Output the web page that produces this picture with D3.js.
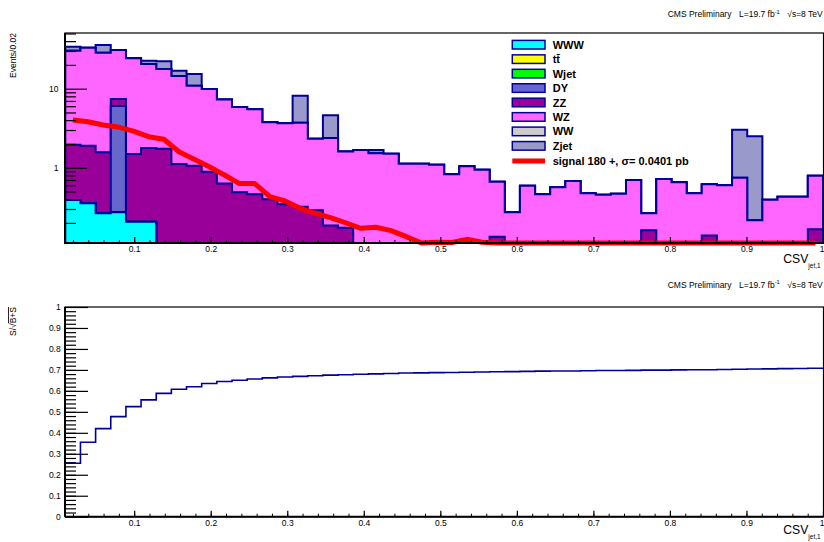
<!DOCTYPE html>
<html>
<head>
<meta charset="utf-8">
<script src="https://cdn.jsdelivr.net/npm/d3@7/dist/d3.min.js"></script>
<style>
  html, body { margin: 0; padding: 0; background: #fff; }
  svg { display: block; font-family: "Liberation Sans", Arial, Helvetica, sans-serif; }
</style>
</head>
<body>
<svg id="chart" width="824" height="542"></svg>
<script>
// ---- binning of the CSV discriminant (leading jet) ----
const xRange = [0.01, 1.0];
const nBins = 50;

// ---- background processes, stacked in this order (events per bin) ----
const processNames = ["WWW", "tt\u0304", "Wjet", "DY", "ZZ", "WZ", "WW", "Zjet"];
const processColors = ["#00ffff", "#ffff00", "#00ff00", "#6666cc", "#990099", "#ff66ff", "#cccccc", "#9999cc"];

const WWW = [0.39, 0.354, 0.265, 0.272, 0.207, 0.207, 0, 0, 0, 0,
             0, 0, 0, 0, 0, 0, 0, 0, 0, 0,
             0, 0, 0, 0, 0, 0, 0, 0, 0, 0,
             0, 0, 0, 0, 0, 0, 0, 0, 0, 0,
             0, 0, 0, 0, 0, 0, 0, 0, 0, 0];
const TT = new Array(50).fill(0);
const Wjet = new Array(50).fill(0);
const DY = [0, 0, 0, 5.77, 0, 0, 0, 0, 0, 0,
            0, 0, 0, 0, 0, 0, 0, 0, 0, 0,
            0, 0, 0, 0, 0, 0, 0, 0, 0, 0,
            0, 0, 0, 0, 0, 0, 0, 0, 0, 0,
            0, 0, 0, 0, 0, 0, 0, 0, 0, 0];
const ZZ = [1.56, 1.546, 1.305, 1.37, 1.283, 1.573, 1.74, 1.11, 1.06, 0.89,
            0.63, 0.49, 0.46, 0.40, 0.344, 0.321, 0.29, 0.185, 0.174, 0,
            0, 0, 0, 0, 0, 0, 0, 0, 0.134, 0,
            0, 0, 0, 0, 0, 0, 0, 0, 0.161, 0,
            0, 0, 0.139, 0, 0, 0, 0, 0, 0, 0.166];
const WZ = [28.35, 31.1, 27.03, 23.49, 22.81, 18.72, 16.06, 13.39, 9.84, 9.01,
            6.67, 5.38, 5.03, 3.36, 3.31, 3.39, 2.04, 2.195, 1.426, 1.68,
            1.52, 1.50, 1.12, 1.12, 1.09, 0.824, 1.04, 0.94, 0.531, 0.272,
            0.592, 0.46, 0.565, 0.68, 0.474, 0.455, 0.469, 0.70, 0.104, 0.72,
            0.653, 0.474, 0.478, 0.599, 0.747, 0.216, 0.394, 0.43, 0.43, 0.624];
const WW = new Array(50).fill(0);
const Zjet = [3.7, 0, 7.1, 0, 0, 2.1, 4.4, 2.4, 4.5, 0,
              0, 0, 0, 0, 0, 4.44, 0, 2.22, 0, 0,
              0.16, 0, 0, 0, 0, 0, 0, 0, 0, 0,
              0, 0, 0, 0, 0, 0, 0, 0, 0, 0,
              0, 0, 0, 0, 2.28, 2.28, 0, 0, 0, 0];

// ---- signal (m = 180 GeV) ----
const signalLabel = "signal 180 +, \u03c3= 0.0401 pb";
const signal = [4.02, 3.82, 3.47, 3.27, 2.91, 2.47, 2.29, 1.59, 1.28, 1.03,
                0.81, 0.63, 0.63, 0.43, 0.379, 0.306, 0.265, 0.233, 0.201, 0.171,
                0.176, 0.160, 0.134, 0.105, 0.114, 0.113, 0.124, 0.114, 0.108, 0,
                0, 0, 0, 0, 0, 0, 0, 0, 0, 0,
                0, 0, 0, 0, 0, 0, 0, 0, 0, 0];

// ---- S/sqrt(B+S) for a cut CSV > x ----
const significance = [0.255, 0.355, 0.42, 0.477, 0.525, 0.557, 0.588, 0.608, 0.62, 0.635,
                      0.645, 0.651, 0.657, 0.662, 0.666, 0.669, 0.672, 0.675, 0.677, 0.679,
                      0.681, 0.683, 0.685, 0.686, 0.687, 0.688, 0.689, 0.690, 0.691, 0.692,
                      0.693, 0.694, 0.695, 0.695, 0.696, 0.697, 0.697, 0.698, 0.699, 0.699,
                      0.700, 0.701, 0.701, 0.702, 0.703, 0.704, 0.705, 0.706, 0.707, 0.708];

// ---- axis ticks ----
const xMajorTicks = [0.1, 0.2, 0.3, 0.4, 0.5, 0.6, 0.7, 0.8, 0.9, 1.0];
const xMajorLabels = ["0.1", "0.2", "0.3", "0.4", "0.5", "0.6", "0.7", "0.8", "0.9", "1"];
const logMajorTicks = [1, 10];
const logMinorTicks = [0.2, 0.3, 0.4, 0.5, 0.6, 0.7, 0.8, 0.9, 2, 3, 4, 5, 6, 7, 8, 9, 20, 30, 40, 50];
const sigTicks = [0, 0.1, 0.2, 0.3, 0.4, 0.5, 0.6, 0.7, 0.8, 0.9, 1];
const sigLabels = ["0", "0.1", "0.2", "0.3", "0.4", "0.5", "0.6", "0.7", "0.8", "0.9", "1"];

const series = [WWW, TT, Wjet, DY, ZZ, WZ, WW, Zjet];
const lineColor = "#000099";

// ---- layout ----
const svg = d3.select("#chart");
const frameL = 65, frameR = 823.5;
const topP = { t: 33, b: 243 };
const botP = { t: 307, b: 516.7 };

const binW = (xRange[1] - xRange[0]) / nBins;
const edges = d3.range(nBins + 1).map(i => xRange[0] + i * binW);
const centers = d3.range(nBins).map(i => xRange[0] + (i + 0.5) * binW);
const minorStep = 0.02;
const xMinorTicks = d3.range(1, 50).map(i => i * minorStep);
const yMinorTicks = d3.range(1, 50).map(i => i * minorStep);

const x = d3.scaleLinear().domain(xRange).range([65.3, 823]);
const yTop = d3.scaleLog().domain([0.1114, 50.7]).range([topP.b, topP.t]).clamp(true);
const yBot = d3.scaleLinear().domain([0, 1]).range([botP.b, botP.t]);

// cumulative stack
const cumulative = [];
series.forEach((s, i) => {
  cumulative.push(s.map((v, b) => v + (i > 0 ? cumulative[i - 1][b] : 0)));
});

function stepPoints(vals) {
  const pts = [];
  vals.forEach((v, b) => { pts.push([edges[b], v]); pts.push([edges[b + 1], v]); });
  return pts;
}

// ---- top panel: stacked backgrounds, drawn from the full sum downwards ----
const gTop = svg.append("g");
const area = d3.area()
  .x(d => x(d[0]))
  .y0(topP.b)
  .y1(d => yTop(d[1]));

for (let i = series.length - 1; i >= 0; i--) {
  gTop.append("path")
    .attr("d", area(stepPoints(cumulative[i])))
    .attr("fill", processColors[i])
    .attr("stroke", lineColor)
    .attr("stroke-width", 2)
    .attr("stroke-linejoin", "miter");
}

// signal curve
const sigLine = d3.line()
  .x((d, i) => x(centers[i]))
  .y(d => yTop(d));
gTop.append("path")
  .attr("d", sigLine(signal))
  .attr("fill", "none")
  .attr("stroke", "#ff0000")
  .attr("stroke-width", 5)
  .attr("stroke-linejoin", "round");

// frames
function frame(p) {
  svg.append("rect")
    .attr("x", frameL).attr("y", p.t)
    .attr("width", frameR - frameL).attr("height", p.b - p.t)
    .attr("fill", "none").attr("stroke", "#000").attr("stroke-width", 1.2);
}
frame(topP);
frame(botP);

function styleAxis(g, width) {
  g.select(".domain").remove();
  g.selectAll(".tick line").attr("stroke", "#000").attr("stroke-width", width);
  g.selectAll("text").attr("font-size", 8.5).attr("fill", "#000")
    .attr("font-family", "'Liberation Sans', Arial, sans-serif");
}

function xAxes(p) {
  const major = d3.axisBottom(x).tickValues(xMajorTicks)
    .tickFormat((d, i) => xMajorLabels[i]).tickSize(-6).tickSizeOuter(0).tickPadding(3.2);
  const gM = svg.append("g").attr("transform", `translate(0,${p.b})`).call(major);
  styleAxis(gM, 1.2);
  // the label at the right edge is kept inside the page
  gM.selectAll(".tick text").filter(d => d === 1.0).attr("text-anchor", "end").attr("dx", 1);
  const minor = d3.axisBottom(x).tickValues(xMinorTicks)
    .tickFormat("").tickSize(-3).tickSizeOuter(0);
  const gm = svg.append("g").attr("transform", `translate(0,${p.b})`).call(minor);
  styleAxis(gm, 1);
  svg.append("line").attr("x1", frameL).attr("x2", frameR).attr("y1", p.b).attr("y2", p.b)
    .attr("stroke", "#000").attr("stroke-width", 2);
}

// top y axis (log)
{
  const major = d3.axisLeft(yTop).tickValues(logMajorTicks).tickFormat(d3.format("d"))
    .tickSize(-22).tickSizeOuter(0).tickPadding(6.5);
  const gM = svg.append("g").attr("transform", `translate(${frameL},0)`).call(major);
  styleAxis(gM, 1.2);
  const minor = d3.axisLeft(yTop).tickValues(logMinorTicks).tickFormat("").tickSize(-11).tickSizeOuter(0);
  const gm = svg.append("g").attr("transform", `translate(${frameL},0)`).call(minor);
  styleAxis(gm, 1.2);
}
// bottom y axis (linear)
{
  const major = d3.axisLeft(yBot).tickValues(sigTicks).tickFormat((d, i) => sigLabels[i])
    .tickSize(-23).tickSizeOuter(0).tickPadding(4.3);
  const gM = svg.append("g").attr("transform", `translate(${frameL},0)`).call(major);
  styleAxis(gM, 1.2);
  const minor = d3.axisLeft(yBot).tickValues(yMinorTicks).tickFormat("")
    .tickSize(-11).tickSizeOuter(0);
  const gm = svg.append("g").attr("transform", `translate(${frameL},0)`).call(minor);
  styleAxis(gm, 1.2);
}
xAxes(topP);
xAxes(botP);
[topP, botP].forEach(p => {
  svg.append("line").attr("x1", frameL).attr("x2", frameL).attr("y1", p.t).attr("y2", p.b)
    .attr("stroke", "#000").attr("stroke-width", 2);
});

// ---- bottom panel: significance step line ----
const stepLine = d3.line().x(d => x(d[0])).y(d => yBot(d[1]));
svg.append("path")
  .attr("d", stepLine(stepPoints(significance)))
  .attr("fill", "none")
  .attr("stroke", lineColor)
  .attr("stroke-width", 1.6);

// ---- legend ----
const leg = svg.append("g").attr("font-size", 11).attr("font-weight", "bold");
const rowY0 = 44.7, rowDY = 14.45;
processNames.forEach((name, i) => {
  const cy = rowY0 + i * rowDY;
  leg.append("rect").attr("x", 512.3).attr("y", cy - 4.3).attr("width", 32.7).attr("height", 8.6)
    .attr("fill", processColors[i]).attr("stroke", lineColor).attr("stroke-width", 1.5);
  leg.append("text").attr("x", 552.7).attr("y", cy + 4).text(name);
});
{
  const cy = rowY0 + processNames.length * rowDY + 0.8;
  leg.append("line").attr("x1", 512.3).attr("x2", 545).attr("y1", cy).attr("y2", cy)
    .attr("stroke", "#ff0000").attr("stroke-width", 5);
  leg.append("text").attr("x", 552.7).attr("y", cy + 4).text(signalLabel);
}

// ---- header and titles ----
function header(yb) {
  const g = svg.append("g").attr("font-size", 8.5).attr("fill", "#000");
  g.append("text").attr("x", 667.7).attr("y", yb).text("CMS Preliminary");
  const t = g.append("text").attr("x", 739).attr("y", yb);
  t.append("tspan").text("L=19.7 fb");
  t.append("tspan").attr("dy", -3.5).attr("font-size", 5.8).text("-1");
  g.append("text").attr("x", 822.7).attr("y", yb).attr("text-anchor", "end").text("\u221as=8 TeV");
}
header(17);
header(287.5);

function xTitle(yb) {
  const t = svg.append("text").attr("x", 783.3).attr("y", yb).attr("font-size", 12.2).attr("fill", "#000");
  t.append("tspan").text("CSV");
  t.append("tspan").attr("dy", 5).attr("font-size", 6.5).text("jet,1");
}
xTitle(263.3);
xTitle(534);

svg.append("text").attr("transform", "translate(16,33) rotate(-90)")
  .attr("text-anchor", "end").attr("font-size", 8.5).text("Events/0.02");
{
  const t = svg.append("text").attr("transform", "translate(16,307) rotate(-90)")
    .attr("text-anchor", "end").attr("font-size", 8.5);
  t.append("tspan").text("S/\u221a");
  t.append("tspan").attr("text-decoration", "overline").text("B+S");
}
</script>
</body>
</html>
